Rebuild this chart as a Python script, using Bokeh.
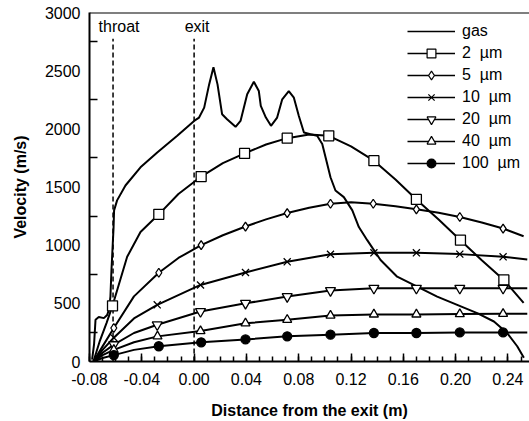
from bokeh.plotting import figure
from bokeh.models import FixedTicker, PrintfTickFormatter, Legend, LegendItem, Span, Label
from bokeh.embed import file_html
from bokeh.resources import INLINE

FONT = "Liberation Sans"
NAN = float("nan")

# ---------------- data ----------------
gas_x = [-0.0780, -0.0765, -0.0754, -0.0729, -0.0690, -0.0665, -0.0652, -0.0640, -0.0632,
         -0.0622, -0.0616, -0.0612, -0.0589, -0.0525, -0.0410, -0.0282, -0.0129, 0.0000,
         0.0038, 0.0077, 0.0115, 0.0148, 0.0179, 0.0214, 0.0252, 0.0317, 0.0355, 0.0406,
         0.0457, 0.0495, 0.0510, 0.0549, 0.0588, 0.0635, 0.0674, 0.0724, 0.0763, 0.0801,
         0.0840, 0.0890, 0.0941, 0.0980, 0.1018, 0.1043, 0.1081, 0.1145, 0.1210, 0.1260,
         0.1324, 0.1426, 0.1553, 0.1706, 0.1859, 0.2012, 0.2165, 0.2293, 0.2394, 0.2471,
         0.2522]
gas_v = [17, 150, 359, 382, 373, 400, 444, 558, 786,
         1014, 1150, 1299, 1385, 1513, 1669, 1797, 1940, 2068,
         2097, 2182, 2382, 2530, 2382, 2126, 2083, 2017, 2068, 2297,
         2404, 2325, 2197, 2097, 2026, 2097, 2254, 2325, 2268, 2111,
         1968, 1954, 1940, 1869, 1698, 1584, 1470, 1413, 1299, 1156,
         1043, 872, 729, 644, 558, 487, 416, 344, 245, 131,
         32]

# 2 um
p2_x = [-0.077, -0.072, -0.067, -0.0624, -0.0512, -0.041, -0.027, -0.012, 0.0054, 0.022,
        0.0386, 0.055, 0.0712, 0.088, 0.103, 0.12, 0.1375, 0.154, 0.170, 0.187,
        0.2037, 0.22, 0.2369, 0.252]
p2_v = [0, 180, 330, 479, 900, 1114, 1265, 1440, 1590, 1705,
        1789, 1865, 1920, 1952, 1940, 1850, 1726, 1565, 1393, 1220,
        1043, 870, 701, 504]
m2_x = [-0.0624, -0.027, 0.0054, 0.0386, 0.0712, 0.103, 0.1375, 0.170, 0.2037, 0.2369]
m2_v = [479, 1265, 1590, 1789, 1920, 1940, 1726, 1393, 1043, 701]

# 5 um
p5_x = [-0.077, -0.070, -0.0614, -0.046, -0.027, -0.012, 0.0054, 0.022, 0.0393, 0.055,
        0.0712, 0.088, 0.1043, 0.12, 0.137, 0.154, 0.170, 0.187, 0.2032, 0.22,
        0.2363, 0.252]
p5_v = [0, 130, 288, 560, 763, 890, 1000, 1085, 1160, 1222,
        1276, 1322, 1356, 1368, 1356, 1335, 1308, 1278, 1242, 1195,
        1143, 1077]
m5_x = [-0.0614, -0.027, 0.0054, 0.0393, 0.0712, 0.1043, 0.137, 0.170, 0.2032, 0.2363]
m5_v = [288, 763, 1000, 1160, 1276, 1356, 1356, 1308, 1242, 1143]

# 10 um
p10_x = [-0.077, -0.070, -0.0614, -0.046, -0.0282, 0.0049, 0.0393, 0.0712, 0.1043, 0.1375,
         0.170, 0.2032, 0.2363, 0.2548]
p10_v = [0, 100, 205, 370, 487, 658, 765, 857, 922, 934,
         934, 923, 900, 877]
m10_x = [-0.0614, -0.0282, 0.0049, 0.0393, 0.0712, 0.1043, 0.1375, 0.170, 0.2032, 0.2363]
m10_v = [205, 487, 658, 765, 857, 922, 934, 934, 923, 900]

# 20 um
p20_x = [-0.077, -0.070, -0.0614, -0.046, -0.0282, 0.0049, 0.0393, 0.0712, 0.1043, 0.1375,
         0.170, 0.2032, 0.2363, 0.2548]
p20_v = [0, 75, 145, 245, 316, 430, 500, 558, 610, 630,
         630, 630, 630, 630]
m20_x = [-0.0614, -0.0282, 0.0049, 0.0393, 0.0712, 0.1043, 0.1375, 0.170, 0.2032, 0.2363]
m20_v = [145, 316, 430, 500, 558, 610, 630, 630, 630, 630]

# 40 um
p40_x = [-0.077, -0.070, -0.0614, -0.046, -0.028, 0.0049, 0.0393, 0.0712, 0.1043, 0.1375,
         0.170, 0.2032, 0.2363, 0.2548]
p40_v = [0, 55, 100, 165, 216, 262, 328, 359, 395, 405,
         405, 408, 410, 410]
m40_x = [-0.0614, -0.028, 0.0049, 0.0393, 0.0712, 0.1043, 0.1375, 0.170, 0.2032, 0.2363]
m40_v = [100, 216, 262, 328, 359, 395, 405, 405, 408, 410]

# 100 um
p100_x = [-0.077, -0.070, -0.0614, -0.046, -0.027, 0.0054, 0.0393, 0.0712, 0.1043, 0.1375,
          0.170, 0.2032, 0.2363, 0.2548]
p100_v = [0, 30, 55, 100, 131, 165, 190, 216, 231, 245,
          245, 250, 250, 250]
m100_x = [-0.0614, -0.027, 0.0054, 0.0393, 0.0712, 0.1043, 0.1375, 0.170, 0.2032, 0.2363]
m100_v = [55, 131, 165, 190, 216, 231, 245, 245, 250, 250]

series_labels = ["gas", "2  µm", "5  µm", "10  µm", "20  µm", "40  µm", "100  µm"]

marker_lines_x = [-0.062, 0.0]
marker_lines_top = [2775, 2775]
marker_line_labels = ["throat", "exit"]

x_ticks = [-0.08, -0.04, 0.0, 0.04, 0.08, 0.12, 0.16, 0.20, 0.24]
y_ticks = [0, 500, 1000, 1500, 2000, 2500, 3000]

# ---------------- figure ----------------
p = figure(width=529, height=421, x_range=(-0.08, 0.2565), y_range=(0, 3000),
           output_backend="svg", toolbar_location=None,
           min_border_left=89, min_border_right=0, min_border_top=12, min_border_bottom=59)
p.outline_line_color = None
p.grid.visible = False
p.background_fill_color = "white"
p.border_fill_color = "white"

# axes
xa = p.xaxis[0]
ya = p.yaxis[0]
xa.ticker = FixedTicker(ticks=x_ticks,
                        minor_ticks=[round(-0.08 + 0.01 * i, 2) for i in range(34)])
xa.formatter = PrintfTickFormatter(format="%.2f")
ya.ticker = FixedTicker(ticks=y_ticks, minor_ticks=[250 + 500 * i for i in range(6)])
for ax in (xa, ya):
    ax.axis_line_width = 2
    ax.axis_line_color = "black"
    ax.major_tick_out = 0
    ax.minor_tick_out = 0
    ax.major_tick_line_width = 1.5
    ax.minor_tick_line_width = 1.5
    ax.major_label_text_font = FONT
    ax.major_label_text_font_size = "16px"
    ax.major_label_text_color = "black"
    ax.axis_label_text_font = FONT
    ax.axis_label_text_font_size = "16px"
    ax.axis_label_text_font_style = "bold"
    ax.axis_label_text_color = "black"
xa.major_tick_in = 8
xa.minor_tick_in = 5
ya.major_tick_in = 0
ya.minor_tick_in = 8
xa.major_label_standoff = 11
ya.major_label_standoff = 9
xa.axis_label = "Distance from the exit (m)"
ya.axis_label = "Velocity (m/s)"
xa.axis_label_standoff = 14
ya.axis_label_standoff = 13

# top border line
p.add_layout(Span(location=3000, dimension="width", line_color="black", line_width=2))

# throat / exit dashed lines
p.segment(x0=marker_lines_x, y0=[0, 0], x1=marker_lines_x, y1=marker_lines_top,
          line_color="black", line_width=1.5, line_dash="5 3")
for xv, txt, off in zip(marker_lines_x, marker_line_labels, [6, 3]):
    p.add_layout(Label(x=xv, y=2880, x_offset=off, text=txt, text_align="center",
                       text_baseline="middle", text_font=FONT, text_font_size="16px",
                       text_color="black"))

LW = 2
gas_r = p.line(gas_x, gas_v, line_color="black", line_width=LW)

specs = [
    (p2_x, p2_v, m2_x, m2_v, "square", 10, "white"),
    (p5_x, p5_v, m5_x, m5_v, "diamond", 9, "white"),
    (p10_x, p10_v, m10_x, m10_v, "x", 10, "white"),
    (p20_x, p20_v, m20_x, m20_v, "inverted_triangle", 10, "white"),
    (p40_x, p40_v, m40_x, m40_v, "triangle", 9, "white"),
    (p100_x, p100_v, m100_x, m100_v, "circle", 9, "black"),
]

# legend-only glyphs (thinner line, smaller markers, as in the reference legend);
# their single point is NaN so nothing is drawn in the plot area
leg_gas = p.line([NAN], [NAN], line_color="black", line_width=1.5)
items = [LegendItem(label=series_labels[0], renderers=[leg_gas])]

mk_specs = []
for (lx, lv, mx, mv, mk, sz, fc), lab in zip(specs, series_labels[1:]):
    p.line(lx, lv, line_color="black", line_width=LW)
    mk_specs.append((mx, mv, mk, sz, fc, lab))
for mx, mv, mk, sz, fc, lab in mk_specs:
    p.scatter(mx, mv, marker=mk, size=sz, fill_color=fc, line_color="black", line_width=1.3)
    ll = p.line([NAN], [NAN], line_color="black", line_width=1.5)
    lm = p.scatter([NAN], [NAN], marker=mk, size=sz - 2, fill_color=fc, line_color="black",
                   line_width=1.2)
    items.append(LegendItem(label=lab, renderers=[ll, lm]))

legend = Legend(items=items, location=(318, 187), orientation="vertical",
                padding=0, margin=0, spacing=0, glyph_width=48, glyph_height=22,
                label_height=22, label_standoff=7,
                label_text_font=FONT, label_text_font_size="16px",
                label_text_color="black", border_line_color=None,
                background_fill_alpha=0)
p.add_layout(legend)

open("out.html", "w").write(file_html(p, INLINE))
